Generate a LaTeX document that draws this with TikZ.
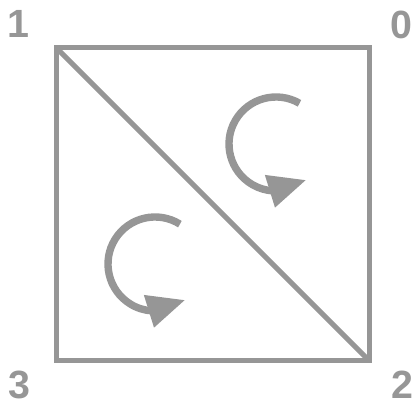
\documentclass[tikz,border=0pt]{standalone}
\usepackage{fontspec}
\setmainfont{Liberation Sans}
\usepackage{tikz}
\usetikzlibrary{arrows.meta,bending,positioning}
\definecolor{edgegray}{RGB}{150,150,150}

\begin{document}
\begin{tikzpicture}[
    x=0.025cm, y=0.025cm,
    edge/.style={draw=edgegray, line width=0.125cm},
    turn/.style={draw=edgegray, line width=0.185cm, -{Triangle[length=0.95cm, width=0.8cm, flex]}},
    num/.style={text=edgegray, font=\fontsize{28}{28}\selectfont\bfseries, inner sep=0pt}
]
\useasboundingbox (0,0) rectangle (414,405);
% corners of the square
\coordinate (v1) at (56,357.5);
\coordinate (v0) at (369,357.5);
\coordinate (v2) at (369,44.5);
\coordinate (v3) at (56,44.5);
\node[num] (n1) at (18,381) {1};
\node[num] (n0) at (401.5,380.5) {0};
\node[num] (n3) at (19.5,20.5) {3};
\node[num] (n2) at (402,20) {2};
\draw[edge] (v1) -- (v0) -- (v2) -- (v3) -- cycle;
\draw[edge] (v1) -- (v2);
% rotation arrows
\coordinate (c1) at (276,261);
\coordinate (c2) at (155,141);
\draw[turn] ([shift={(60:47)}]c1) arc[start angle=60, end angle=310, radius=47];
\draw[turn] ([shift={(58:47)}]c2) arc[start angle=58, end angle=310, radius=47];
\end{tikzpicture}
\end{document}
